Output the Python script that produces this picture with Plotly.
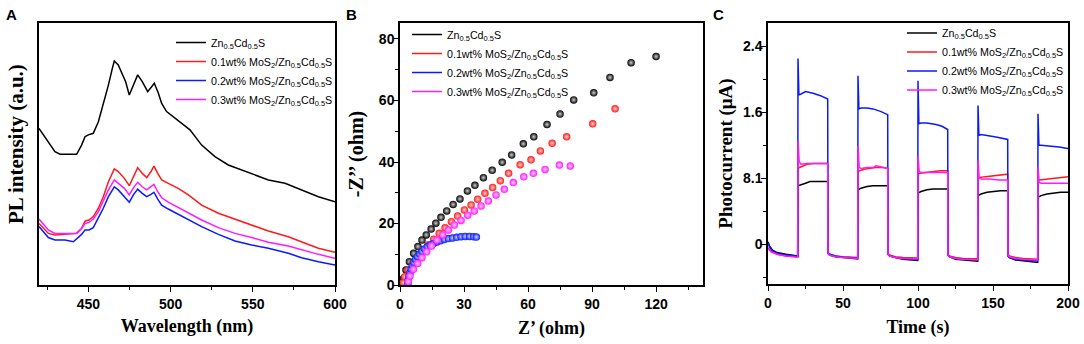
import plotly.graph_objects as go

# ---------------- data ----------------
series_names = [
    "Zn<sub>0.5</sub>Cd<sub>0.5</sub>S",
    "0.1wt% MoS<sub>2</sub>/Zn<sub>0.5</sub>Cd<sub>0.5</sub>S",
    "0.2wt% MoS<sub>2</sub>/Zn<sub>0.5</sub>Cd<sub>0.5</sub>S",
    "0.3wt% MoS<sub>2</sub>/Zn<sub>0.5</sub>Cd<sub>0.5</sub>S",
]
series_colors = ["#000000", "#ff1a1a", "#0a1aff", "#ff1aff"]

# Panel A: PL spectra (arbitrary units)
pl_wl_black = [420, 425.7, 429.7, 432.8, 442.9, 445.9, 448.0, 450.0, 453.0, 456.1, 459.1, 462.2, 464.6,
               465.8, 468.2, 470.7, 472.7, 474.9, 477.4, 480.0, 482.8, 486.1, 488.5, 490.1, 492.6, 494.6,
               497.6, 502.7, 507.8, 511.8, 518.9, 527.0, 535.1, 543.2, 551.4, 559.5, 569.6, 579.7, 589.9, 600]
pl_int_black = [59.8, 54.7, 50.9, 49.9, 49.9, 53.4, 56.6, 57.3, 57.9, 62.3, 68.7, 76.3, 82.7,
                85.5, 84.0, 80.8, 77.6, 72.5, 76.3, 80.2, 77.6, 73.8, 75.7, 77.0, 73.2, 69.3,
                66.2, 63.6, 61.1, 59.2, 53.4, 49.0, 45.8, 43.9, 42.0, 40.1, 38.8, 36.3, 33.7, 31.8]

pl_wl_color = [420, 425.7, 429.7, 435.8, 442.9, 445.9, 448.0, 450.4, 453.0, 456.1, 459.1, 462.2, 465.8,
               468.2, 471.9, 474.9, 477.4, 480.0, 482.8, 485.5, 488.1, 489.9, 492.2, 494.6, 498.6, 504.7,
               510.8, 518.9, 529.1, 539.2, 549.3, 559.5, 571.6, 579.7, 589.9, 600]
pl_int_red = [23.5, 19.7, 19.1, 19.5, 19.7, 21.6, 24.4, 24.8, 26.1, 29.3, 33.7, 39.4, 44.3,
              43.3, 40.7, 37.9, 41.3, 44.8, 42.6, 41.0, 43.3, 45.4, 42.6, 40.1, 38.8, 36.9,
              34.4, 30.5, 27.4, 25.2, 22.9, 20.6, 18.4, 16.5, 14.0, 12.5]
pl_int_magenta = [25.2, 21.0, 19.7, 19.7, 19.7, 21.6, 23.5, 23.9, 25.2, 28.0, 31.8, 36.3, 40.1,
                  38.8, 36.9, 34.4, 37.1, 39.2, 37.5, 36.3, 37.5, 38.4, 35.6, 33.3, 31.6, 29.5,
                  27.7, 24.8, 21.9, 19.7, 18.1, 16.3, 14.9, 13.4, 11.7, 10.2]
pl_wl_blue = [420, 425.7, 429.7, 435.8, 440.9, 442.9, 445.9, 448.0, 450.4, 453.0, 456.1, 459.1, 462.2,
              465.8, 468.2, 471.9, 474.9, 477.4, 480.0, 482.8, 485.5, 488.1, 489.9, 492.2, 494.6, 498.6,
              504.7, 510.8, 518.9, 529.1, 539.2, 549.3, 559.5, 571.6, 579.7, 589.9, 600]
pl_int_blue = [22.3, 18.1, 17.2, 17.2, 16.5, 17.6, 19.3, 21.0, 21.0, 21.9, 25.4, 29.3, 33.7,
               37.5, 36.3, 33.7, 31.6, 34.4, 36.6, 35.0, 33.7, 34.6, 35.4, 32.8, 30.5, 29.0,
               27.0, 25.2, 22.3, 19.3, 16.8, 15.3, 14.0, 12.1, 10.4, 8.9, 7.6]

# Panel B: Nyquist plots (ohm)
eis_re_black = [1.2, 1.7, 2.8, 4.4, 6.4, 8.4, 10.3, 12.3, 14.6, 16.8, 19.2, 21.9, 24.9, 28.1, 31.6,
                35.1, 39.1, 43.2, 47.9, 52.3, 57.8, 62.7, 68.9, 75.0, 81.4, 90.8, 98.4, 108.3, 120.0]
eis_im_black = [0.3, 2.2, 4.9, 7.6, 10.3, 12.5, 14.6, 16.3, 18.2, 20.1, 22.0, 24.1, 26.2, 28.0, 30.6,
                32.4, 34.9, 37.3, 39.9, 42.3, 45.9, 48.2, 52.2, 55.6, 60.2, 62.5, 67.5, 72.3, 74.3]
eis_re_red = [1.6, 2.3, 3.9, 5.9, 8.3, 10.6, 13.0, 15.8, 18.4, 21.1, 24.1, 27.0, 30.2, 33.3, 36.4,
              39.8, 43.4, 47.0, 50.9, 56.3, 61.4, 65.8, 71.3, 78.1, 90.3, 100.8]
eis_im_red = [0.8, 2.7, 4.9, 7.0, 9.2, 11.2, 13.0, 14.9, 16.8, 18.6, 20.6, 22.4, 24.4, 26.0, 27.9,
              29.8, 31.7, 33.9, 36.3, 39.1, 40.7, 43.6, 46.1, 48.2, 52.4, 57.3]
eis_re_blue = [3.7, 3.9, 4.2, 4.7, 5.2, 5.8, 6.5, 7.3, 8.2, 9.2, 10.3, 11.5, 12.8, 14.2, 15.7, 17.3,
               19.0, 20.8, 22.7, 24.6, 26.6, 28.6, 30.6, 32.6, 34.5, 35.8]
eis_im_blue = [0.3, 1.5, 2.8, 4.0, 5.2, 6.3, 7.3, 8.3, 9.2, 10.1, 10.9, 11.7, 12.4, 13.0, 13.5, 14.0,
               14.4, 14.8, 15.1, 15.3, 15.5, 15.7, 15.8, 15.8, 15.7, 15.6]
eis_re_magenta = [3.9, 4.7, 6.3, 8.3, 10.3, 12.5, 14.8, 17.3, 20.0, 22.7, 25.5, 28.6, 31.7, 34.8, 38.0,
                  41.4, 45.0, 48.9, 53.1, 58.0, 62.5, 68.0, 74.7, 79.8]
eis_im_magenta = [1.1, 2.9, 5.1, 7.0, 8.9, 10.8, 12.7, 14.6, 16.3, 17.9, 19.5, 21.0, 22.7, 24.1, 25.7,
                  27.3, 29.3, 31.1, 33.3, 35.2, 36.3, 37.6, 39.0, 38.7]

# Panel C: transient photocurrent (uA)
pc_t_black = [0, 1, 3, 6, 12, 19.8, 20, 22, 25, 28, 32, 36, 39.8, 40, 41, 45, 50, 59.8, 60, 62, 66, 70, 75,
              79.8, 80, 81, 85, 90, 99.8, 100, 102, 106, 110, 115, 119.8, 120, 121, 125, 130, 139.8, 140,
              142, 146, 150, 155, 159.8, 160, 161, 165, 170, 179.8, 180, 182, 186, 190, 195, 200]
pc_i_black = [0.03, -0.02, -0.07, -0.10, -0.12, -0.14, 0.71, 0.72, 0.74, 0.76, 0.76, 0.76, 0.76, -0.11,
              -0.13, -0.15, -0.16, -0.175, 0.66, 0.68, 0.70, 0.71, 0.71, 0.71, -0.12, -0.14, -0.16, -0.18,
              -0.195, 0.62, 0.64, 0.66, 0.67, 0.67, 0.67, -0.13, -0.15, -0.18, -0.19, -0.205, 0.59, 0.61,
              0.63, 0.64, 0.65, 0.65, -0.14, -0.16, -0.19, -0.20, -0.22, 0.57, 0.59, 0.61, 0.62, 0.63, 0.63]
pc_t_red = [0, 2, 6, 12, 19.8, 20, 21, 23, 26, 30, 35, 39.8, 40, 41, 45, 50, 59.8, 60, 61, 64, 68, 72, 76,
            79.8, 80, 81, 85, 90, 99.8, 100, 101, 105, 110, 115, 119.8, 120, 121, 125, 130, 139.8, 140,
            141, 145, 150, 155, 159.8, 160, 161, 165, 170, 179.8, 180, 181, 185, 190, 195, 200]
pc_i_red = [-0.04, -0.08, -0.12, -0.14, -0.15, 0.92, 0.93, 0.95, 0.97, 0.98, 0.98, 0.98, -0.10, -0.12,
            -0.14, -0.15, -0.16, 0.88, 0.89, 0.91, 0.92, 0.93, 0.93, 0.92, -0.11, -0.13, -0.15, -0.16,
            -0.165, 0.85, 0.86, 0.87, 0.88, 0.89, 0.89, -0.12, -0.14, -0.16, -0.17, -0.175, 0.80, 0.81,
            0.82, 0.83, 0.84, 0.85, -0.12, -0.14, -0.16, -0.17, -0.18, 0.77, 0.78, 0.79, 0.80, 0.81, 0.82]
pc_t_blue = [0, 1, 3, 6, 12, 19.8, 20, 20.6, 22, 25, 30, 35, 39.8, 40, 41, 45, 50, 59.8, 60, 60.6, 62, 66,
             70, 75, 79.8, 80, 81, 85, 90, 99.8, 100, 100.6, 102, 106, 112, 116, 119.8, 120, 121, 125, 130,
             139.8, 140, 140.6, 142, 146, 152, 159.8, 160, 161, 165, 170, 179.8, 180, 180.6, 182, 188, 194, 200]
pc_i_blue = [0.02, -0.03, -0.08, -0.11, -0.13, -0.145, 2.25, 1.81, 1.82, 1.85, 1.83, 1.80, 1.76, -0.10,
             -0.12, -0.14, -0.155, -0.165, 2.04, 1.64, 1.65, 1.65, 1.64, 1.61, 1.57, -0.12, -0.14, -0.16,
             -0.17, -0.18, 1.98, 1.46, 1.47, 1.47, 1.45, 1.43, 1.39, -0.13, -0.15, -0.17, -0.18, -0.19,
             1.68, 1.32, 1.33, 1.32, 1.30, 1.27, -0.14, -0.16, -0.18, -0.19, -0.20, 1.58, 1.20, 1.20,
             1.19, 1.18, 1.16]
pc_t_magenta = [0, 2, 6, 12, 19.8, 20, 20.8, 22, 26, 30, 35, 39.8, 40, 41, 45, 50, 59.8, 60, 60.8, 62, 66,
                70, 72, 74, 79.8, 80, 81, 85, 90, 99.8, 100, 100.8, 102, 106, 112, 119.8, 120, 121, 125,
                130, 139.8, 140, 140.8, 142, 148, 154, 159.8, 160, 161, 165, 170, 179.8, 180, 180.8, 182,
                188, 194, 200]
pc_i_magenta = [-0.05, -0.09, -0.12, -0.14, -0.155, 1.25, 1.00, 0.97, 0.98, 0.98, 0.98, 0.98, -0.11,
                -0.13, -0.15, -0.16, -0.17, 1.19, 0.93, 0.92, 0.93, 0.93, 0.95, 0.94, 0.92, -0.12, -0.14,
                -0.16, -0.17, -0.175, 1.07, 0.88, 0.87, 0.87, 0.87, 0.87, -0.13, -0.15, -0.17, -0.18,
                -0.185, 1.02, 0.80, 0.79, 0.79, 0.78, 0.78, -0.13, -0.15, -0.17, -0.18, -0.19, 0.94, 0.75,
                0.74, 0.74, 0.74, 0.74]

pc_tickvals = [0, 0.8, 1.6, 2.4]
pc_ticktext = ["0", "8.1", "1.6", "2.4"]

# ---------------- figure ----------------
W, H = 1084, 344
SANS = "Liberation Sans, Arial, sans-serif"
SERIF = "Liberation Serif, Times New Roman, serif"

fig = go.Figure()

pl_x = [pl_wl_black, pl_wl_color, pl_wl_blue, pl_wl_color]
pl_y = [pl_int_black, pl_int_red, pl_int_blue, pl_int_magenta]
for i in range(4):
    fig.add_trace(go.Scatter(x=pl_x[i], y=pl_y[i], mode="lines", name=series_names[i],
                             line=dict(color=series_colors[i], width=1.5),
                             xaxis="x", yaxis="y", legend="legend"))

eis_x = [eis_re_black, eis_re_red, eis_re_blue, eis_re_magenta]
eis_y = [eis_im_black, eis_im_red, eis_im_blue, eis_im_magenta]
tints = ["#cfcfcf", "#ffd0d0", "#d0d8ff", "#ffd0ff"]
for i in range(4):
    fig.add_trace(go.Scatter(x=eis_x[i], y=eis_y[i], mode="markers", showlegend=False,
                             marker=dict(color=series_colors[i], size=7.5,
                                         gradient=dict(type="radial", color=tints[i]),
                                         line=dict(width=0)),
                             xaxis="x2", yaxis="y2"))
for i in range(4):
    fig.add_trace(go.Scatter(x=[None], y=[None], mode="lines", name=series_names[i],
                             line=dict(color=series_colors[i], width=1.5),
                             xaxis="x2", yaxis="y2", legend="legend2"))

pc_x = [pc_t_black, pc_t_red, pc_t_blue, pc_t_magenta]
pc_y = [pc_i_black, pc_i_red, pc_i_blue, pc_i_magenta]
for i in range(4):
    fig.add_trace(go.Scatter(x=pc_x[i], y=pc_y[i], mode="lines", name=series_names[i],
                             line=dict(color=series_colors[i], width=1.5),
                             xaxis="x3", yaxis="y3", legend="legend3"))


def px_x(p):
    return p / W


def px_y(p):
    return 1 - p / H


tickfont = dict(family=SANS, size=14, color="black", weight="bold")
xtitlefont = dict(family=SERIF, size=18, color="black", weight="bold")
ytitlefont = dict(family=SERIF, size=20, color="black", weight="bold")
axis_common = dict(showline=True, linecolor="black", linewidth=1.5, mirror=True, automargin=False,
                   showgrid=False, zeroline=False, ticks="outside", ticklen=5, tickwidth=1.2,
                   tickcolor="black", tickfont=tickfont)

legend_common = dict(font=dict(family=SANS, size=10.7, color="black"), bgcolor="rgba(0,0,0,0)",
                     borderwidth=0, xanchor="left", yanchor="top", itemwidth=30,
                     tracegroupgap=0)

fig.update_layout(
    width=W, height=H, margin=dict(l=0, r=0, t=0, b=0, autoexpand=False),
    paper_bgcolor="white", plot_bgcolor="white",
    xaxis=dict(axis_common, domain=[px_x(39), px_x(335)], anchor="y", range=[420, 600],
               tick0=450, dtick=50,
               minor=dict(dtick=25, ticks="outside", ticklen=3, tickcolor="black"),
               title=dict(text="Wavelength (nm)", standoff=9, font=xtitlefont)),
    yaxis=dict(axis_common, domain=[px_y(285), px_y(23)], anchor="x", range=[0, 100],
               showticklabels=False, ticks=""),
    xaxis2=dict(axis_common, domain=[px_x(400), px_x(703)], anchor="y2", range=[0, 142],
                tick0=0, dtick=30,
                minor=dict(dtick=15, ticks="outside", ticklen=3, tickcolor="black"),
                title=dict(text="Z’ (ohm)", standoff=11, font=xtitlefont)),
    yaxis2=dict(axis_common, domain=[px_y(285), px_y(23)], anchor="x2", range=[0, 85.2],
                tick0=0, dtick=20, ticklabelstandoff=-4,
                minor=dict(dtick=10, ticks="outside", ticklen=3, tickcolor="black"),
                title=dict(text="-Z’’ (ohm)", standoff=10, font=ytitlefont)),
    xaxis3=dict(axis_common, domain=[px_x(768), px_x(1068)], anchor="y3", range=[0, 200],
                tick0=0, dtick=50,
                minor=dict(dtick=25, ticks="outside", ticklen=3, tickcolor="black"),
                title=dict(text="Time (s)", standoff=11, font=xtitlefont)),
    yaxis3=dict(axis_common, domain=[px_y(284), px_y(23)], anchor="x3", range=[-0.48, 2.68],
                tickmode="array", tickvals=pc_tickvals, ticktext=pc_ticktext, ticklabelstandoff=-4,
                minor=dict(tickmode="array", tickvals=[-0.4, 0.4, 1.2, 2.0], ticks="outside",
                           ticklen=3, tickcolor="black"),
                title=dict(text="Photocurrent (μA)", standoff=5,
                           font=dict(ytitlefont, size=19))),
    legend=dict(legend_common, x=px_x(171), y=px_y(28)),
    legend2=dict(legend_common, x=px_x(407), y=px_y(20)),
    legend3=dict(legend_common, x=px_x(902), y=px_y(18.5)),
    showlegend=True,
)

# Panel A y-axis title (placed as in the reference, slightly above the axis centre)
fig.add_annotation(text="<b>PL intensity (a.u.)</b>", x=px_x(16), y=px_y(144), xref="paper", yref="paper",
                   xanchor="center", yanchor="middle", textangle=-90, showarrow=False,
                   font=dict(family=SERIF, size=21, color="black"))

for txt, xp in [("A", 4), ("B", 344), ("C", 711)]:
    fig.add_annotation(text=f"<b>{txt}</b>", x=px_x(xp), y=px_y(4), xref="paper", yref="paper",
                       xanchor="left", yanchor="top", showarrow=False,
                       font=dict(family=SANS, size=15, color="black"))

fig.write_html("out.html", post_script="document.body.style.margin='0px';",
               config={"displayModeBar": False})
